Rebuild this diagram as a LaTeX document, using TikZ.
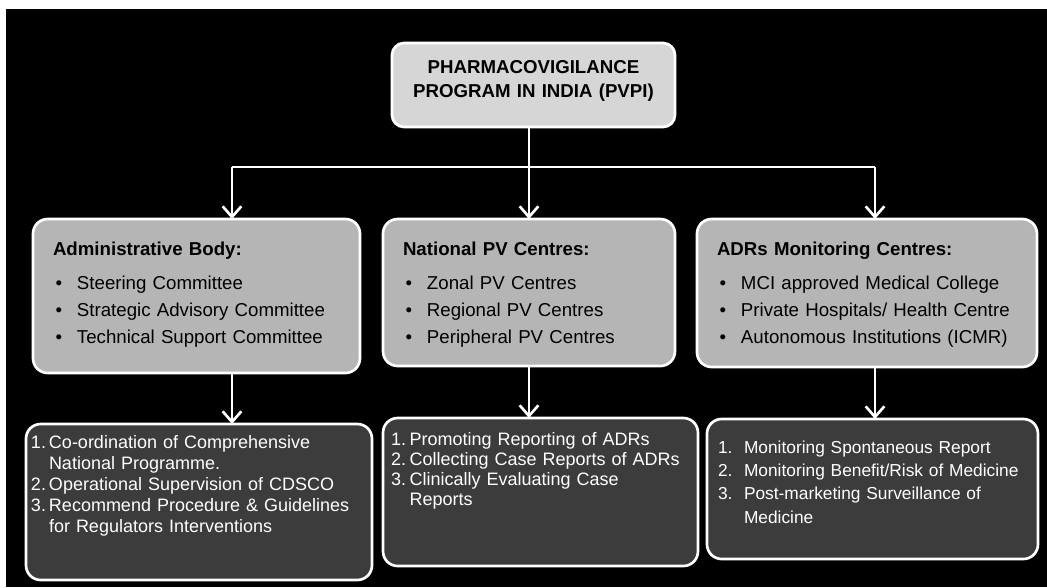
\documentclass[tikz,border=0pt]{standalone}
\usepackage{fontspec}
\setmainfont{Liberation Sans}
\usepackage{tikz}
\usetikzlibrary{arrows.meta, positioning}
\definecolor{toplight}{HTML}{D6D6D6}
\definecolor{midgray}{HTML}{B5B5B5}
\definecolor{lowgray}{HTML}{3C3C3C}
\newcommand{\pvbullet}{\par\hangindent=18pt\hangafter=1\noindent\makebox[18pt][l]{\hspace{2pt}\textbullet}}
\newcommand{\pvnum}[2]{\hangindent=#1\hangafter=1\noindent\color{white}\makebox[#1][l]{#2}}
\tikzstyle{topbox} = [rectangle, rounded corners=9pt, draw=white, line width=2pt, fill=toplight, anchor=north west, outer sep=0pt, inner xsep=0pt, inner ysep=0pt, text width=212.25pt, align=center, text height=23pt, text depth=40pt, font=\fontsize{14pt}{18pt}\selectfont\bfseries]
\tikzstyle{midbox} = [rectangle, rounded corners=11pt, draw=white, line width=2pt, fill=midgray, anchor=north west, outer sep=0pt, inner xsep=15pt, inner ysep=0pt, align=left, text height=27pt, font=\fontsize{14pt}{20pt}\selectfont]
\tikzstyle{lowbox} = [rectangle, rounded corners=11pt, draw=white, line width=2pt, fill=lowgray, anchor=north west, outer sep=0pt, inner ysep=0pt, align=left]
\tikzstyle{link} = [white, line width=2pt]
\tikzstyle{arrow} = [white, line width=2pt, -{Straight Barb[length=8pt,width=14pt]}]

\begin{document}
\begin{tikzpicture}[x=0.75pt, y=-0.75pt]

% Background
\fill [white] (0,0) rectangle (1047,587);
\fill [black] (6,9) rectangle (1047,587);

% Nodes
\node (pvpi) [topbox] at (392,43) {PHARMACOVIGILANCE\\PROGRAM IN INDIA (PVPI)};

\node (admin) [midbox, text width=215.25pt, text depth=88.5pt] at (33,219) {{\bfseries Administrative Body:}\par\vspace{6pt}\pvbullet Steering Committee\pvbullet Strategic Advisory Committee\pvbullet Technical Support Committee\par};
\node (natpv) [midbox, text width=189pt, text depth=83.25pt] at (383,219) {{\bfseries National PV Centres:}\par\vspace{6pt}\pvbullet Zonal PV Centres\pvbullet Regional PV Centres\pvbullet Peripheral PV Centres\par};
\node (adr) [midbox, text width=225pt, text depth=84pt] at (697,219) {{\bfseries ADRs Monitoring Centres:}\par\vspace{6pt}\pvbullet MCI approved Medical College\pvbullet Private Hospitals/ Health Centre\pvbullet Autonomous Institutions (ICMR)\par};

\node (admintask) [lowbox, inner xsep=3.75pt, text width=252pt, text height=18pt, text depth=99pt, font=\fontsize{13.5pt}{15.9pt}\selectfont] at (26,424) {\pvnum{13.5pt}{1.}Co-ordination of Comprehensive\newline National Programme.\par\pvnum{13.5pt}{2.}Operational Supervision of CDSCO\par\pvnum{13.5pt}{3.}Recommend Procedure \& Guidelines\newline for Regulators Interventions\par};
\node (nattask) [lowbox, inner xsep=6pt, text width=224.25pt, text height=20.25pt, text depth=90.75pt, font=\fontsize{13.5pt}{15.2pt}\selectfont] at (383,418) {\pvnum{14pt}{1.}Promoting Reporting of ADRs\par\pvnum{14pt}{2.}Collecting Case Reports of ADRs\par\pvnum{14pt}{3.}Clinically Evaluating Case\newline Reports\par};
\node (adrtask) [lowbox, inner xsep=8.25pt, text width=231.75pt, text height=25.5pt, text depth=79.5pt, font=\fontsize{13pt}{17.5pt}\selectfont] at (707,419) {\pvnum{19.5pt}{1.}Monitoring Spontaneous Report\par\pvnum{19.5pt}{2.}Monitoring Benefit/Risk of Medicine\par\pvnum{19.5pt}{3.}Post-marketing Surveillance of\newline Medicine\par};

\coordinate (busL) at (232,167);
\coordinate (busR) at (875,167);

% Arrows
\draw [link] (busL) -- (busR);
\draw [arrow] (pvpi.south -| natpv.north) -- (natpv.north);
\draw [arrow] (busL) -- (busL |- admin.north);
\draw [arrow] (busR) -- (busR |- adr.north);
\draw [arrow] (admin.south -| busL) -- (admintask.north -| busL);
\draw [arrow] (natpv.south) -- (natpv.south |- nattask.north);
\draw [arrow] (adr.south -| busR) -- (adrtask.north -| busR);

\end{tikzpicture}
\end{document}
